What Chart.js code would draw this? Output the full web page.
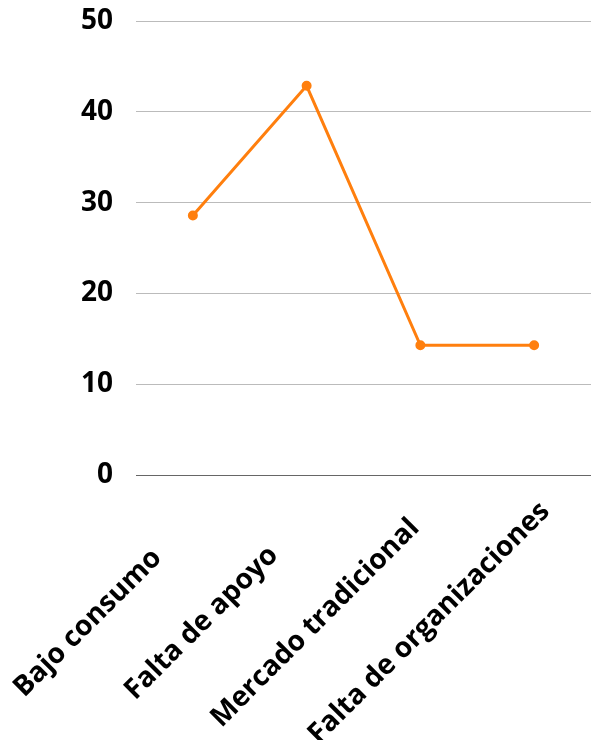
<!DOCTYPE html>
<html>
<head>
<meta charset="utf-8">
<script src="https://cdn.jsdelivr.net/npm/chart.js@4/dist/chart.umd.min.js"></script>
<style>
	html, body { margin: 0; padding: 0; background: #fff; overflow: hidden; }
	#wrap { width: 600px; height: 740px; }
</style>
</head>
<body>
<div id="wrap"><canvas id="myChart"></canvas></div>
<script>
var categorias = ['Bajo consumo', 'Falta de apoyo', 'Mercado tradicional', 'Falta de organizaciones'];
var valores = [28.57, 42.86, 14.29, 14.29];
var ticksY = [0, 10, 20, 30, 40, 50];

var fuente = { family: 'Open Sans', weight: 'bold', size: 28 };

// etiquetas del eje X giradas 45 grados y centradas (como en el original)
var etiquetasX = {
	id: 'etiquetasX',
	afterDraw: function(chart) {
		var ctx = chart.ctx;
		var x = chart.scales.x;
		ctx.save();
		ctx.fillStyle = '#000';
		ctx.font = 'bold 28px "Open Sans"';
		ctx.textAlign = 'center';
		ctx.textBaseline = 'middle';
		for (var i = 0; i < categorias.length; i++) {
			var px = x.getPixelForValue(i);
			ctx.save();
			ctx.translate(px - 105, chart.chartArea.bottom + 148);
			ctx.rotate(-Math.PI / 4);
			ctx.fillText(categorias[i], 0, 0);
			ctx.restore();
		}
		ctx.restore();
	}
};

var ctx = document.getElementById('myChart').getContext('2d');

var myChart = new Chart(ctx, {
	type: 'line',
	data: {
		labels: categorias,
		datasets: [{
			data: valores,
			borderColor: '#ff7f0e',
			backgroundColor: '#ff7f0e',
			borderWidth: 3,
			pointRadius: 3.5,
			pointHoverRadius: 3.5,
			tension: 0
		}]
	},
	options: {
		responsive: true,
		maintainAspectRatio: false,
		animation: false,
		layout: {
			padding: { top: 21, right: 9, left: 0, bottom: 265 }
		},
		plugins: {
			legend: { display: false },
			tooltip: { enabled: false }
		},
		scales: {
			x: {
				display: false,
				offset: true
			},
			y: {
				min: 0,
				max: 50,
				afterBuildTicks: function(axis) {
					axis.ticks = ticksY.map(function(v) { return { value: v }; });
				},
				grid: {
					drawTicks: false,
					lineWidth: 1,
					color: function(c) {
						return c.tick && c.tick.value === 0 ? '#666666' : '#bbbbbb';
					}
				},
				border: { display: false },
				ticks: {
					color: '#000',
					font: fuente,
					padding: 23
				},
				afterFit: function(axis) {
					axis.width = 136;
					axis.paddingTop = 0;
					axis.paddingBottom = 0;
				}
			}
		}
	},
	plugins: [etiquetasX]
});
</script>
</body>
</html>
